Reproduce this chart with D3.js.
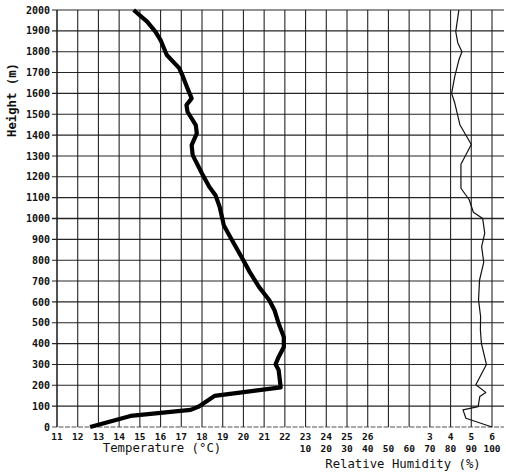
<!DOCTYPE html>
<html>
<head>
<meta charset="utf-8">
<script src="https://cdn.jsdelivr.net/npm/d3@7"></script>
<style>
  html, body { margin: 0; padding: 0; background: #fff; }
  svg { display: block; }
  text { font-family: "DejaVu Sans Mono", "Liberation Mono", monospace; fill: #111; }
</style>
</head>
<body>
<svg id="chart" width="506" height="475"></svg>
<script>
// Vertical profile: air temperature (°C) and relative humidity (%) against height (m)
const tempHeights = [0, 53, 82, 98, 149, 190, 273, 301, 336, 384, 432, 496, 560, 608, 672, 744, 808, 896, 968, 992, 1056, 1112, 1152, 1216, 1304, 1352, 1408, 1448, 1512, 1544, 1576, 1624, 1688, 1721, 1784, 1856, 1896, 1944, 2000];
const tempValues  = [12.6, 14.55, 17.45, 17.85, 18.6, 21.8, 21.7, 21.55, 21.7, 21.95, 21.95, 21.7, 21.5, 21.25, 20.75, 20.3, 19.95, 19.45, 19.05, 19.0, 18.85, 18.65, 18.35, 18.0, 17.55, 17.5, 17.75, 17.7, 17.3, 17.25, 17.5, 17.3, 17.05, 16.9, 16.3, 16.0, 15.75, 15.35, 14.7];

const rhHeights = [0, 42, 82, 98, 146, 166, 203, 300, 400, 465, 530, 610, 705, 790, 865, 930, 1000, 1030, 1090, 1145, 1260, 1355, 1450, 1555, 1600, 1680, 1760, 1800, 1842, 1896, 2000];
const rhValues  = [100, 87.4, 86, 93.3, 94.1, 97, 92.2, 97.3, 94.9, 94.4, 94.5, 93.5, 94, 96, 95, 96.5, 95.5, 91, 89, 85, 85, 90, 84.5, 82, 80.5, 82, 84, 85.5, 83.5, 82.5, 84];

const heightTicks = d3.range(0, 2001, 100);
const tempTickLabels = d3.range(11, 27);           // 11 … 26
const rhTickLabels = d3.range(10, 101, 10);        // 10 … 100
const rhUpperLabels = [{ rh: 70, label: "3" }, { rh: 80, label: "4" }, { rh: 90, label: "5" }, { rh: 100, label: "6" }];

const svg = d3.select("#chart");
svg.append("rect").attr("width", 506).attr("height", 475).attr("fill", "#fff");

// Temperature grid spans 11–32 °C; the humidity scale occupies the last ten columns
const xT = d3.scaleLinear().domain([11, 32]).range([57, 492]);
const xRH = d3.scaleLinear().domain([0, 100]).range([xT(22), xT(32)]);
const y = d3.scaleLinear().domain([0, 2000]).range([427, 10]);

const grid = svg.append("g").attr("stroke", "#1a1a1a").attr("fill", "none");

// horizontal grid lines (with short left ticks, running past the last column)
grid.selectAll("line.h").data(heightTicks).join("line")
  .attr("class", "h")
  .attr("x1", xT(11) - 5).attr("x2", 504)
  .attr("y1", d => y(d)).attr("y2", d => y(d))
  .attr("stroke-width", d => d === 1000 ? 1.6 : 1.1)
  .attr("stroke-dasharray", d => d === 0 ? "5,1.5" : null)
  .attr("stroke-opacity", d => d === 0 ? 0.75 : 0.95);

// vertical grid lines
grid.selectAll("line.v").data(d3.range(11, 33)).join("line")
  .attr("class", "v")
  .attr("x1", d => xT(d)).attr("x2", d => xT(d))
  .attr("y1", y(2000)).attr("y2", y(0))
  .attr("stroke-width", d => d === 11 ? 1.6 : 1.1)
  .attr("stroke-opacity", 0.95);

// height axis labels
svg.append("g").selectAll("text").data(heightTicks).join("text")
  .attr("x", xT(11) - 7).attr("y", d => y(d)).attr("dy", "0.36em")
  .attr("text-anchor", "end")
  .attr("font-size", 10).attr("font-weight", "bold")
  .text(d => d);

// temperature tick labels
svg.append("g").selectAll("text").data(tempTickLabels).join("text")
  .attr("x", d => xT(d)).attr("y", 440)
  .attr("text-anchor", "middle")
  .attr("font-size", 9.5).attr("font-weight", "bold")
  .text(d => d);

// upper humidity-side labels
svg.append("g").selectAll("text").data(rhUpperLabels).join("text")
  .attr("x", d => xRH(d.rh)).attr("y", 440)
  .attr("text-anchor", "middle")
  .attr("font-size", 9.5).attr("font-weight", "bold")
  .text(d => d.label);

// relative humidity tick labels
svg.append("g").selectAll("text").data(rhTickLabels).join("text")
  .attr("x", d => xRH(d)).attr("y", 452)
  .attr("text-anchor", "middle")
  .attr("font-size", 9.5).attr("font-weight", "bold")
  .text(d => d);

// axis titles
svg.append("text")
  .attr("x", 162).attr("y", 452)
  .attr("text-anchor", "middle").attr("font-size", 12.3)
  .text("Temperature (°C)");

svg.append("text")
  .attr("x", 403).attr("y", 468)
  .attr("text-anchor", "middle").attr("font-size", 12.3)
  .text("Relative Humidity (%)");

svg.append("text")
  .attr("transform", "translate(16,100) rotate(-90)")
  .attr("text-anchor", "middle").attr("font-size", 12.3).attr("font-weight", "bold")
  .text("Height (m)");

// relative humidity profile
const rhLine = d3.line()
  .x((d, i) => xRH(rhValues[i]))
  .y(d => y(d));
svg.append("path")
  .datum(rhHeights)
  .attr("d", rhLine)
  .attr("fill", "none").attr("stroke", "#111").attr("stroke-width", 1.2)
  .attr("stroke-linejoin", "round");

// temperature profile
const tLine = d3.line()
  .x((d, i) => xT(tempValues[i]))
  .y(d => y(d))
  .curve(d3.curveLinear);
svg.append("path")
  .datum(tempHeights)
  .attr("d", tLine)
  .attr("fill", "none").attr("stroke", "#000").attr("stroke-width", 4.2)
  .attr("stroke-linejoin", "round").attr("stroke-linecap", "butt");
</script>
</body>
</html>
